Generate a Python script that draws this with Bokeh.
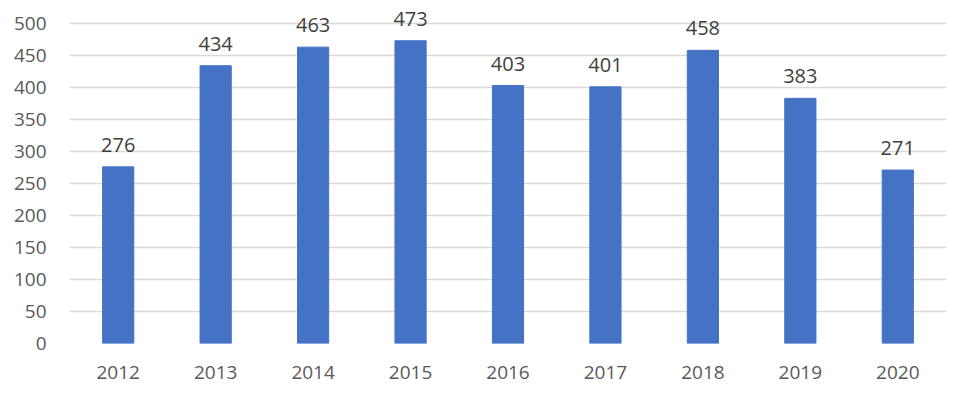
from bokeh.plotting import figure
from bokeh.models import ColumnDataSource, Range1d, FixedTicker, LabelSet
from bokeh.core.properties import value
from bokeh.embed import file_html
from bokeh.resources import INLINE

years = ["2012", "2013", "2014", "2015", "2016", "2017", "2018", "2019", "2020"]
values = [276, 434, 463, 473, 403, 401, 458, 383, 271]
y_ticks = [0, 50, 100, 150, 200, 250, 300, 350, 400, 450, 500]

src = ColumnDataSource(dict(x=years, y=values, lab=[str(v) for v in values]))

p = figure(x_range=years, y_range=Range1d(0, 535.9), width=960, height=390,
           output_backend="svg", toolbar_location=None,
           min_border_left=69, min_border_right=14, min_border_top=0, min_border_bottom=47)
p.outline_line_color = None
p.background_fill_color = "white"
p.border_fill_color = "white"

p.vbar(x="x", top="y", width=0.32, source=src, color="#4472C4")

labels = LabelSet(x="x", y="y", text="lab", source=src, text_align="center",
                  text_baseline="alphabetic", y_offset=15, text_font=value("Open Sans"),
                  text_font_size=value("20px"), text_color="#404040")
p.add_layout(labels)

p.yaxis.ticker = FixedTicker(ticks=y_ticks)
p.yaxis.axis_line_color = None
p.yaxis.major_tick_line_color = None
p.yaxis.minor_tick_line_color = None
p.yaxis.major_label_standoff = 17
p.xaxis.axis_line_color = None
p.xaxis.major_tick_line_color = None
p.xaxis.major_label_standoff = 16
for ax in (p.xaxis, p.yaxis):
    ax.major_label_text_font = "Open Sans"
    ax.major_label_text_font_size = "19px"
    ax.major_label_text_color = "#595959"

p.xgrid.grid_line_color = None
p.ygrid.grid_line_color = "#D9D9D9"
p.ygrid.grid_line_width = 1.3

open("out.html", "w").write(file_html(p, INLINE))
